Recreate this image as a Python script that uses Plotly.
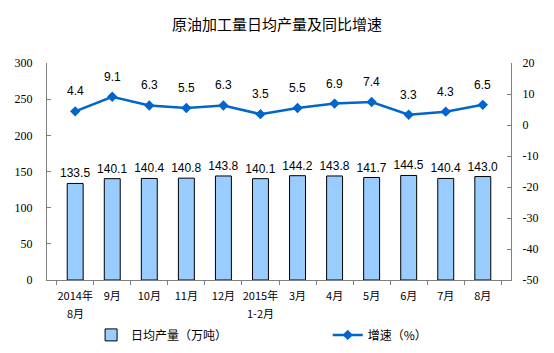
import plotly.graph_objects as go

categories = ["2014年", "9月", "10月", "11月", "12月", "2015年",
              "3月", "4月", "5月", "6月", "7月", "8月"]
sub_labels = ["8月", "", "", "", "", "1-2月", "", "", "", "", "", ""]
output_daily = [133.5, 140.1, 140.4, 140.8, 143.8, 140.1, 144.2, 143.8, 141.7, 144.5, 140.4, 143.0]
growth_rate = [4.4, 9.1, 6.3, 5.5, 6.3, 3.5, 5.5, 6.9, 7.4, 3.3, 4.3, 6.5]
left_ticks = [0, 50, 100, 150, 200, 250, 300]
right_ticks = [-50, -40, -30, -20, -10, 0, 10, 20]

num_font = dict(family="Liberation Sans", size=12, color="#000000")
tick_font = dict(family="'Liberation Serif', 'DejaVu Serif', serif", size=12, color="#000000")
cjk = "Noto Sans CJK SC"

fig = go.Figure()
fig.add_trace(go.Bar(
    x=categories, y=output_daily, name="日均产量（万吨）",
    marker=dict(color="#99CCFF", line=dict(color="#000000", width=1)),
    width=0.43,
    text=[f"{v:.1f}" for v in output_daily], textposition="outside",
    textfont=num_font, outsidetextfont=num_font, constraintext="none",
    cliponaxis=False, legend="legend",
))
fig.add_trace(go.Scatter(
    x=categories, y=growth_rate, name="增速（%）", yaxis="y2",
    mode="lines+markers",
    line=dict(color="#0066CC", width=2.5),
    marker=dict(symbol="diamond", size=8, color="#0066CC"),
    legend="legend2",
))
for c, v in zip(categories, growth_rate):
    fig.add_annotation(x=c, y=v, yref="y2", text=f"{v:.1f}", showarrow=False,
                       yshift=20, font=num_font)
for c, s in zip(categories, sub_labels):
    if s:
        fig.add_annotation(x=c, y=0, yref="paper", text=s, showarrow=False,
                           yanchor="middle", yshift=-33,
                           font=dict(family=cjk, size=11, color="#000000"))

leg_font = dict(family=cjk, size=12, color="#000000")
fig.update_layout(
    width=554, height=353,
    margin=dict(l=47, r=43, t=63, b=73, autoexpand=False),
    paper_bgcolor="white", plot_bgcolor="white",
    title=dict(text="原油加工量日均产量及同比增速", x=0.5, xanchor="center",
               y=0.93, yanchor="middle",
               font=dict(family=cjk, size=15, color="#000000")),
    showlegend=True,
    legend=dict(orientation="h", x=0.095, xanchor="left", y=-0.253, yanchor="middle",
                font=leg_font, itemwidth=30, bgcolor="rgba(0,0,0,0)"),
    legend2=dict(orientation="h", x=0.605, xanchor="left", y=-0.253, yanchor="middle",
                 font=leg_font, itemwidth=30, bgcolor="rgba(0,0,0,0)"),
    bargap=0.57,
    uniformtext=dict(minsize=12, mode="show"),
    xaxis=dict(showline=True, linecolor="#808080", linewidth=1,
               ticks="outside", tickcolor="#808080", ticklen=4,
               tickson="boundaries", tickangle=0, ticklabelstandoff=6,
               tickfont=dict(family=cjk, size=11, color="#000000"),
               showgrid=False, mirror=False, automargin=False),
    yaxis=dict(range=[0, 300], tickvals=left_ticks, ticktext=[str(v) for v in left_ticks],
               showline=True, linecolor="#808080",
               ticks="inside", tickcolor="#808080", ticklen=4, ticklabelstandoff=11,
               tickfont=tick_font, showgrid=False, zeroline=False, automargin=False),
    yaxis2=dict(range=[-50, 20], tickvals=right_ticks, ticktext=[str(v) for v in right_ticks],
                overlaying="y", side="right",
                showline=True, linecolor="#808080",
                ticks="inside", tickcolor="#808080", ticklen=4, ticklabelstandoff=8,
                tickfont=tick_font, showgrid=False, zeroline=False, automargin=False),
)

fig.write_html("out.html")
